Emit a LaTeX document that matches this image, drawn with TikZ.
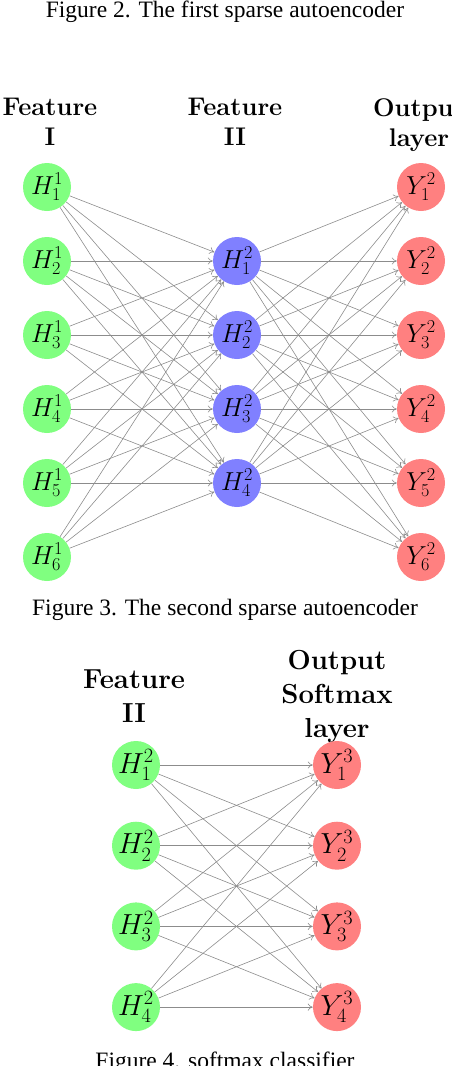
\RequirePackage{fix-cm}
\documentclass[tikz,border=0pt]{standalone}
\usepackage{fontspec}
\newfontfamily\capfont{Liberation Serif}
\usetikzlibrary{arrows.meta}
\colorlet{featc}{green!50}
\colorlet{hidc}{blue!50}
\colorlet{outc}{red!50}
\colorlet{wire}{black!45}

\begin{document}
\begin{tikzpicture}[
  x=1pt, y=-1pt,
  neuron/.style = {circle, inner sep=0pt, minimum size=48pt, font=\fontsize{26}{30}\selectfont},
  featn/.style  = {neuron, fill=featc},
  hidn/.style   = {neuron, fill=hidc},
  outn/.style   = {neuron, fill=outc},
  bign/.style   = {font=\fontsize{29}{33}\selectfont},
  arr/.style    = {-{To[length=5pt,width=7pt]}, draw=wire, line width=0.6pt},
  head/.style   = {font=\fontsize{25.5}{30}\selectfont\bfseries, align=center, inner sep=0pt, anchor=north},
  bighead/.style = {head, font=\fontsize{27.5}{34}\selectfont\bfseries},
  figcap/.style = {font=\capfont\fontsize{23.5}{28}\selectfont, inner sep=0pt, anchor=base},
]
\useasboundingbox (0,0) rectangle (452,1066);

% ---------- captions ----------
\node[figcap] (cap2) at (225,17) {Figure 2. The first sparse autoencoder};
\node[figcap] (cap3) at (225,615) {Figure 3. The second sparse autoencoder};
\node[figcap] (cap4) at (225,1068) {Figure 4. softmax classifier};

% ---------- second autoencoder ----------
\node[head] (hdI)   at (50,98)  {Feature\\I};
\node[head] (hdII)  at (235,98) {Feature\\II};
\node[head] (hdout) at (419,98) {Output\\layer};

\foreach \i in {1,...,6}
  \node[featn] (in\i) at (47,{187+74*(\i-1)}) {$H^1_{\i}$};
\foreach \j in {1,...,4}
  \node[hidn] (hid\j) at (237,{261+74*(\j-1)}) {$H^2_{\j}$};
\foreach \i in {1,...,6}
  \node[outn] (out\i) at (421,{187+74*(\i-1)}) {$Y^2_{\i}$};

\foreach \i in {1,...,6}
  \foreach \j in {1,...,4} {
    \draw[arr] (in\i) -- (hid\j);
    \draw[arr] (hid\j) -- (out\i);
  }

% ---------- softmax classifier ----------
\node[bighead] (hdft) at (134,670) {Feature\\II};
\node[bighead] (hdsm) at (337,650) {Output\\Softmax\\layer};

\foreach \j in {1,...,4} {
  \node[featn, bign] (ft\j) at (136,{765+80.7*(\j-1)}) {$H^2_{\j}$};
  \node[outn, bign]  (sm\j) at (337,{765+80.7*(\j-1)}) {$Y^3_{\j}$};
}
\foreach \i in {1,...,4}
  \foreach \j in {1,...,4}
    \draw[arr] (ft\i) -- (sm\j);

\end{tikzpicture}
\end{document}
